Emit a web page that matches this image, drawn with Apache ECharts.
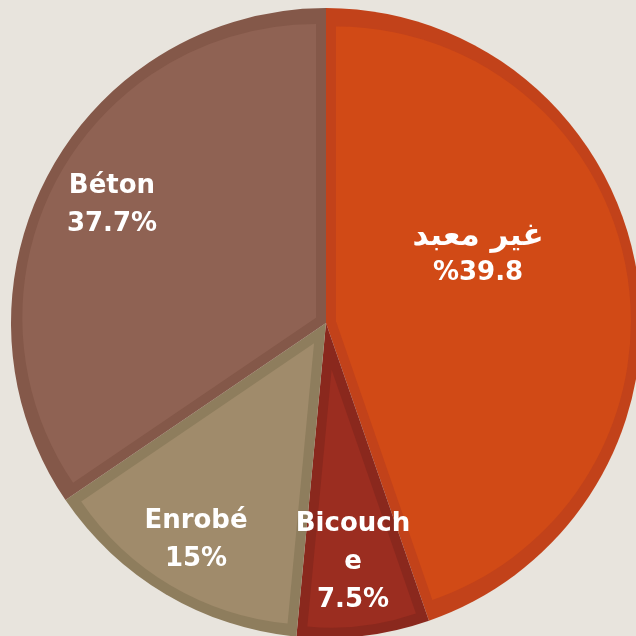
<!DOCTYPE html>
<html>
<head>
<meta charset="utf-8">
<script src="https://cdn.jsdelivr.net/npm/echarts@6/dist/echarts.min.js"></script>
<style>
  html, body { margin: 0; padding: 0; background: #e8e4dd; }
  #chart { width: 636px; height: 636px; }
</style>
</head>
<body>
<div id="chart"></div>
<script>
// slice order: clockwise from 12 o'clock
var categories = ['غير معبد', 'Bicouche', 'Enrobé', 'Béton'];
// slice sizes as drawn in the picture (angle share, %)
var values = [44.7, 6.8, 14.0, 34.5];
// percentages printed on the labels
var labelPct = ['%39.8', '7.5%', '15%', '37.7%'];

var edgeColors = ['#c2421a', '#8a281d', '#8e7d5d', '#845849'];
var fillColors = ['#d14a16', '#9b2d20', '#a08b6b', '#8f6253'];
var labelPos = [[478, 256], [353, 562], [196, 540], [112, 205]];

var CENTER = [326, 323];
var R = 315;
var EDGE = 10;

var chart = echarts.init(document.getElementById('chart'));
var total = values.reduce(function (a, b) { return a + b; }, 0);

// darker full slices (their edge band stays visible)
var series = [{
  type: 'pie',
  center: CENTER,
  radius: R,
  startAngle: 90,
  clockwise: true,
  silent: true,
  z: 1,
  label: { show: false },
  labelLine: { show: false },
  data: categories.map(function (name, i) {
    return { name: name, value: values[i], itemStyle: { color: edgeColors[i] } };
  })
}];

// lighter inner part of each slice, inset so the darker edge shows around it
categories.forEach(function (name, k) {
  var theta = values[k] / total * Math.PI * 2;
  var offset = EDGE / Math.sin(theta / 2);
  series.push({
    type: 'pie',
    center: CENTER,
    radius: R - EDGE - offset,
    startAngle: 90,
    clockwise: true,
    silent: true,
    z: 2,
    selectedMode: 'multiple',
    selectedOffset: offset,
    label: { show: false },
    labelLine: { show: false },
    emphasis: { disabled: true },
    data: categories.map(function (n, i) {
      return {
        name: n,
        value: values[i],
        selected: i === k,
        itemStyle: { color: i === k ? fillColors[i] : 'rgba(0,0,0,0)' }
      };
    })
  });
});

// labels on top
series.push({
  type: 'pie',
  center: CENTER,
  radius: R,
  startAngle: 90,
  clockwise: true,
  silent: true,
  z: 3,
  itemStyle: { color: 'rgba(0,0,0,0)' },
  data: categories.map(function (name, i) {
    var item = { name: name, value: values[i] };
    if (i === 1) {
      item.label = { width: 125, overflow: 'breakAll' };
    }
    return item;
  }),
  label: {
    show: true,
    position: 'inside',
    color: '#ffffff',
    fontFamily: '"DejaVu Sans", sans-serif',
    fontWeight: 'bold',
    fontSize: 26,
    lineHeight: 38,
    formatter: function (p) {
      if (p.dataIndex === 0) {
        return '{ar|' + p.name + '}\n' + labelPct[p.dataIndex];
      }
      return p.name + '\n' + labelPct[p.dataIndex];
    },
    rich: {
      ar: {
        color: '#ffffff',
        fontFamily: '"DejaVu Sans", sans-serif',
        fontWeight: 'bold',
        fontSize: 31,
        lineHeight: 34
      }
    }
  },
  labelLine: { show: false },
  labelLayout: function (p) {
    var pos = labelPos[p.dataIndex];
    return { x: pos[0], y: pos[1], align: 'center', verticalAlign: 'middle' };
  }
});

chart.setOption({
  backgroundColor: '#e8e4dd',
  animation: false,
  series: series
});
</script>
</body>
</html>
